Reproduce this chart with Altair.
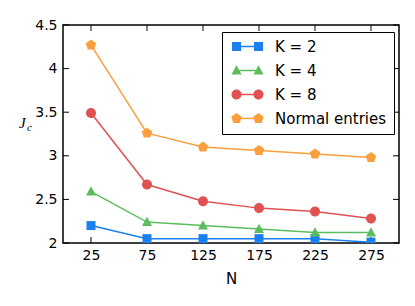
import altair as alt
import pandas as pd

# ---- data ----
N = [25, 75, 125, 175, 225, 275]
series_names = ["K = 2", "K = 4", "K = 8", "Normal entries"]
k2 = [2.20, 2.05, 2.05, 2.05, 2.05, 2.01]
k4 = [2.59, 2.24, 2.20, 2.16, 2.12, 2.12]
k8 = [3.49, 2.67, 2.48, 2.40, 2.36, 2.28]
normal = [4.27, 3.26, 3.10, 3.06, 3.02, 2.98]
colors = ["#1a80f0", "#5cbd5e", "#e05252", "#fa9f3c"]
x_ticks = [25, 75, 125, 175, 225, 275]
y_ticks = [2, 2.5, 3, 3.5, 4, 4.5]

rows = []
for name, vals in zip(series_names, [k2, k4, k8, normal]):
    for n, v in zip(N, vals):
        rows.append({"N": n, "J": v, "series": name})
df = pd.DataFrame(rows)

W, H = 336, 218

# marker shapes (unit coordinates)
sq = "M-0.9,-0.9H0.9V0.9H-0.9Z"
tri = "M0,-1.05L1,0.8L-1,0.8Z"
circ = "M1,0A1,1 0 1,1 -1,0A1,1 0 1,1 1,0Z"
pent = "M0,-1.1L1.046,-0.34L0.647,0.89L-0.647,0.89L-1.046,-0.34Z"
marker_paths = [sq, tri, circ, pent]


def sq_at(c):
    return f"M{c-0.9},-0.9H{c+0.9}V0.9H{c-0.9}Z"


def tri_at(c):
    return f"M{c},-1.05L{c+1},0.8L{c-1},0.8Z"


def circ_at(c):
    return f"M{c+1},0A1,1 0 1,1 {c-1},0A1,1 0 1,1 {c+1},0Z"


def pent_at(c):
    return (f"M{c},-1.1L{c+1.046},-0.34L{c+0.647},0.89L{c-0.647},0.89"
            f"L{c-1.046},-0.34Z")


line_seg = "M-2.2,-0.15H2.2V0.15H-2.2Z"
legend_paths = [
    line_seg + sq_at(-2.2) + sq_at(2.2),
    line_seg + tri_at(-2.2) + tri_at(2.2),
    line_seg + circ_at(-2.2) + circ_at(2.2),
    line_seg + pent_at(-2.2) + pent_at(2.2),
]

x_enc = alt.X(
    "N:Q",
    scale=alt.Scale(domain=[0, 300], nice=False),
    axis=alt.Axis(values=x_ticks, title="N", domain=False, ticks=False, grid=False,
                  labelFont="DejaVu Sans", labelFontSize=14, labelColor="black",
                  labelPadding=5, titleFont="DejaVu Sans", titleFontSize=15,
                  titleFontWeight="normal", titleColor="black", titlePadding=9),
)
y_enc = alt.Y(
    "J:Q",
    scale=alt.Scale(domain=[2, 4.5], nice=False, zero=False),
    axis=alt.Axis(values=y_ticks, format="~g", title=None, domain=False, ticks=False,
                  grid=False, labelFont="DejaVu Sans", labelFontSize=14,
                  labelColor="black", labelPadding=6),
)
color_scale = alt.Scale(domain=series_names, range=colors)

lines = alt.Chart(df).mark_line(strokeWidth=1.5, clip=True).encode(
    x=x_enc, y=y_enc,
    color=alt.Color("series:N", scale=color_scale, legend=None),
)

points = alt.Chart(df).mark_point(filled=True, opacity=1, size=100, strokeWidth=0,
                                  clip=True).encode(
    x="N:Q", y="J:Q",
    color=alt.Color("series:N", scale=color_scale, legend=None),
    shape=alt.Shape("series:N", scale=alt.Scale(domain=series_names, range=marker_paths),
                    legend=None),
)

leg_props = dict(title=None, orient="none", legendX=159, legendY=7,
                 strokeColor="black", fillColor="white", padding=7,
                 symbolSize=100, symbolOffset=11, symbolOpacity=1,
                 symbolStrokeWidth=0, labelFont="DejaVu Sans", labelFontSize=15,
                 labelColor="black", labelOffset=20, rowPadding=8, cornerRadius=0)

legend_layer = alt.Chart(df).mark_point(filled=True, opacity=0, size=100).encode(
    x="N:Q", y="J:Q",
    color=alt.Color("series:N", scale=color_scale, legend=alt.Legend(**leg_props)),
    shape=alt.Shape("series:N", scale=alt.Scale(domain=series_names, range=legend_paths),
                    legend=alt.Legend(**leg_props)),
)

tick_df = pd.DataFrame({"t": x_ticks})
ytick_df = pd.DataFrame({"v": y_ticks})
tick_bot = alt.Chart(tick_df).mark_rule(color="black", strokeWidth=1).encode(
    x="t:Q", y=alt.value(H), y2=alt.value(H - 6))
tick_top = alt.Chart(tick_df).mark_rule(color="black", strokeWidth=1).encode(
    x="t:Q", y=alt.value(0), y2=alt.value(6))
tick_left = alt.Chart(ytick_df).mark_rule(color="black", strokeWidth=1).encode(
    y="v:Q", x=alt.value(0), x2=alt.value(6))
tick_right = alt.Chart(ytick_df).mark_rule(color="black", strokeWidth=1).encode(
    y="v:Q", x=alt.value(W), x2=alt.value(W - 6))

one = pd.DataFrame({"a": [0]})
ylab_j = alt.Chart(one).mark_text(font="Liberation Serif", fontStyle="italic",
                                  fontSize=15, align="left", baseline="alphabetic",
                                  color="black").encode(
    x=alt.value(-44), y=alt.value(103), text=alt.value("J"))
ylab_c = alt.Chart(one).mark_text(font="Liberation Serif", fontStyle="italic",
                                  fontSize=11, align="left", baseline="alphabetic",
                                  color="black").encode(
    x=alt.value(-36), y=alt.value(106), text=alt.value("c"))

chart = alt.layer(
    tick_bot, tick_top, tick_left, tick_right, lines, points, legend_layer, ylab_j, ylab_c
).resolve_scale(shape="independent", color="independent").properties(
    width=W, height=H,
    autosize=alt.AutoSizeParams(type="none"),
    padding={"left": 55, "top": 17, "right": 8, "bottom": 55},
).configure_view(stroke="black", strokeWidth=1.5)

chart.save("out.html", embed_options={"renderer": "svg", "actions": False})
